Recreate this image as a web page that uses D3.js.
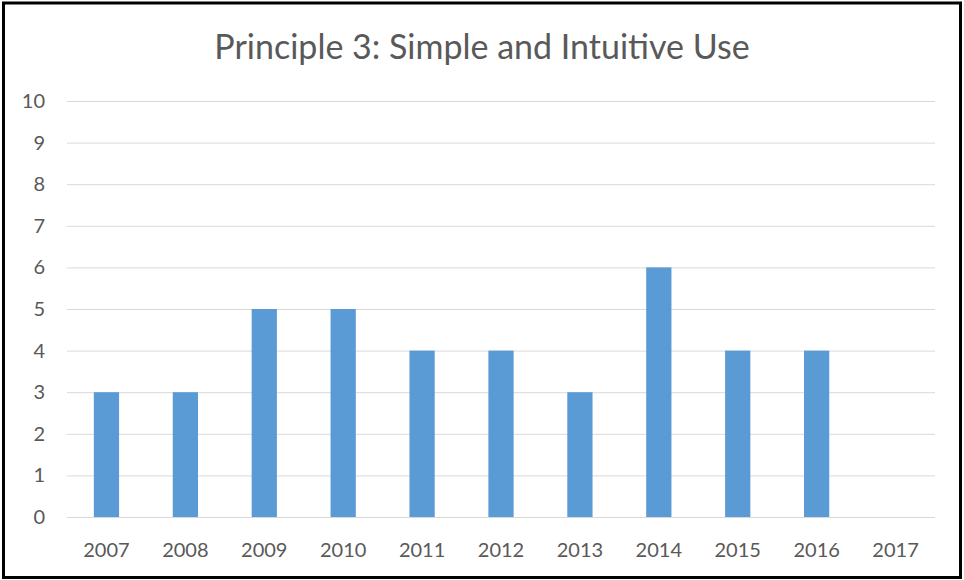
<!DOCTYPE html>
<html>
<head>
<meta charset="utf-8">
<script src="https://cdn.jsdelivr.net/npm/d3@7"></script>
<style>
  html, body { margin: 0; padding: 0; background: #fff; }
  svg { display: block; }
  text { font-family: Lato, "Open Sans", sans-serif; fill: #595959; }
</style>
</head>
<body>
<svg id="chart" width="964" height="580"></svg>
<script>
// Chart data
const years = ["2007", "2008", "2009", "2010", "2011", "2012", "2013", "2014", "2015", "2016", "2017"];
const counts = [3, 3, 5, 5, 4, 4, 3, 6, 4, 4, 0];
const yTicks = [0, 1, 2, 3, 4, 5, 6, 7, 8, 9, 10];
const title = "Principle 3: Simple and Intuitive Use";

const W = 964, H = 580;
const margin = { top: 101, right: 29, bottom: 63, left: 67 };
const svg = d3.select("#chart");

// Outer frame
svg.append("rect")
  .attr("x", 3.5).attr("y", 3).attr("width", W - 7).attr("height", H - 5.5)
  .attr("fill", "#fff").attr("stroke", "#000").attr("stroke-width", 3);

const x = d3.scaleBand().domain(years)
  .range([margin.left, W - margin.right]).paddingInner(0.68).paddingOuter(0.34);
const y = d3.scaleLinear().domain([0, 10]).range([H - margin.bottom, margin.top]);

// Horizontal gridlines with y tick labels
const yAxis = d3.axisLeft(y).tickValues(yTicks)
  .tickSize(-(W - margin.left - margin.right)).tickPadding(22);
const gy = svg.append("g").attr("transform", `translate(${margin.left},0)`).call(yAxis);
gy.select(".domain").remove();
gy.selectAll(".tick line").attr("stroke", "#d9d9d9").attr("stroke-width", 1);
gy.selectAll(".tick text").attr("font-size", 20).attr("fill", "#595959");

// Bars
svg.append("g").selectAll("rect").data(years).join("rect")
  .attr("x", d => x(d))
  .attr("width", x.bandwidth())
  .attr("y", (d, i) => y(counts[i]))
  .attr("height", (d, i) => y(0) - y(counts[i]))
  .attr("fill", "#5b9bd5");

// Category axis labels
const xAxis = d3.axisBottom(x).tickSize(0).tickPadding(26);
const gx = svg.append("g").attr("transform", `translate(0,${y(0)})`).call(xAxis);
gx.select(".domain").remove();
gx.selectAll(".tick text").attr("font-size", 20).attr("fill", "#595959");

// Title
svg.append("text")
  .attr("x", (margin.left + W - margin.right) / 2 - 19)
  .attr("y", 59)
  .attr("text-anchor", "middle")
  .attr("font-size", 34)
  .attr("fill", "#595959")
  .text(title);
</script>
</body>
</html>
